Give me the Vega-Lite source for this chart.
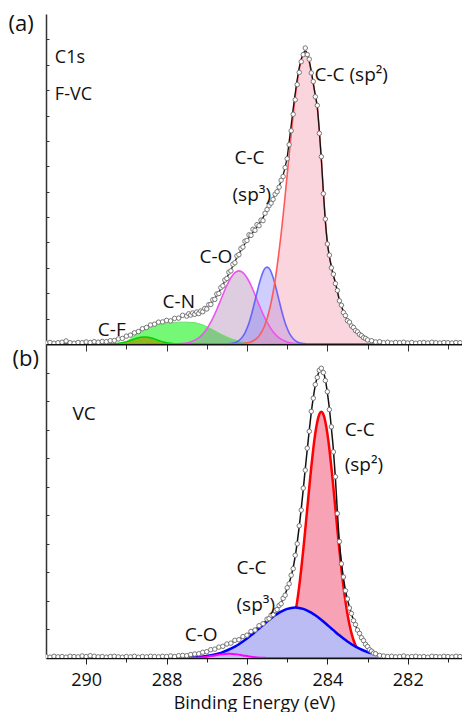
{
  "$schema": "https://vega.github.io/schema/vega-lite/v6.json",
  "padding": {"left": 8, "top": 12, "right": 0, "bottom": 0},
  "spacing": 0,
  "bounds": "flush",
  "config": {
    "view": {"stroke": null},
    "font": "Open Sans",
    "axis": {"labelFont": "Open Sans", "titleFont": "Open Sans"},
    "text": {"font": "Open Sans"}
  },
  "datasets": {
    "a_dat": [
      {"e":291.0,"y":0.04},{"e":290.9,"y":0.06},{"e":290.8,"y":0.03},{"e":290.7,"y":0.05},{"e":290.6,"y":0.07},{"e":290.5,"y":0.12},{"e":290.4,"y":0.05},{"e":290.3,"y":0.03},{"e":290.2,"y":0.06},{"e":290.1,"y":0.05},{"e":290.0,"y":0.08},{"e":289.9,"y":0.06},{"e":289.8,"y":0.09},{"e":289.7,"y":0.07},{"e":289.6,"y":0.10},{"e":289.5,"y":0.09},{"e":289.4,"y":0.13},{"e":289.3,"y":0.14},{"e":289.2,"y":0.20},{"e":289.1,"y":0.22},{"e":289.0,"y":0.31},{"e":288.9,"y":0.35},{"e":288.8,"y":0.44},{"e":288.7,"y":0.49},{"e":288.6,"y":0.60},{"e":288.5,"y":0.65},{"e":288.4,"y":0.75},{"e":288.3,"y":0.78},{"e":288.2,"y":0.86},{"e":288.1,"y":0.87},{"e":288.0,"y":0.93},{"e":287.9,"y":0.91},{"e":287.8,"y":1.01},{"e":287.7,"y":1.02},{"e":287.6,"y":1.13},{"e":287.5,"y":1.10},
      {"e":287.45,"y":1.19},{"e":287.40,"y":1.14},{"e":287.35,"y":1.22},{"e":287.30,"y":1.17},{"e":287.25,"y":1.26},{"e":287.20,"y":1.20},{"e":287.15,"y":1.30},{"e":287.10,"y":1.27},{"e":287.05,"y":1.40},{"e":287.00,"y":1.38},{"e":286.95,"y":1.55},{"e":286.90,"y":1.56},{"e":286.85,"y":1.74},{"e":286.80,"y":1.76},{"e":286.75,"y":1.97},{"e":286.70,"y":1.99},{"e":286.65,"y":2.22},{"e":286.60,"y":2.29},{"e":286.55,"y":2.52},{"e":286.50,"y":2.58},{"e":286.45,"y":2.83},{"e":286.40,"y":2.88},{"e":286.35,"y":3.14},{"e":286.30,"y":3.20},{"e":286.25,"y":3.47},{"e":286.20,"y":3.52},{"e":286.15,"y":3.76},{"e":286.10,"y":3.82},{"e":286.05,"y":4.05},{"e":286.00,"y":4.08},{"e":285.95,"y":4.30},{"e":285.90,"y":4.28},{"e":285.85,"y":4.52},{"e":285.80,"y":4.48},{"e":285.75,"y":4.70},{"e":285.70,"y":4.66},{"e":285.65,"y":4.88},{"e":285.60,"y":4.86},{"e":285.55,"y":5.15},{"e":285.50,"y":5.30},{"e":285.45,"y":5.45},{"e":285.40,"y":5.55},{"e":285.35,"y":5.70},{"e":285.30,"y":5.90},{"e":285.25,"y":6.00},{"e":285.20,"y":6.18},{"e":285.15,"y":6.45},{"e":285.10,"y":6.60},{"e":285.05,"y":6.95},{"e":285.00,"y":7.30},{"e":284.95,"y":7.85},{"e":284.90,"y":8.40},{"e":284.85,"y":9.05},{"e":284.80,"y":9.62},{"e":284.75,"y":10.22},{"e":284.70,"y":10.70},{"e":284.65,"y":11.12},{"e":284.60,"y":11.40},{"e":284.55,"y":11.66},{"e":284.50,"y":11.40},{"e":284.45,"y":11.22},{"e":284.40,"y":10.68},{"e":284.35,"y":10.34},{"e":284.30,"y":9.74},{"e":284.25,"y":9.40},{"e":284.20,"y":8.30},{"e":284.15,"y":7.38},{"e":284.10,"y":5.92},{"e":284.05,"y":4.92},{"e":284.00,"y":3.94},{"e":283.95,"y":3.50},{"e":283.90,"y":3.00},{"e":283.85,"y":2.75},{"e":283.80,"y":2.38},{"e":283.75,"y":2.11},{"e":283.70,"y":1.70},{"e":283.65,"y":1.53},{"e":283.60,"y":1.24},{"e":283.55,"y":1.12},{"e":283.50,"y":0.92},{"e":283.45,"y":0.86},{"e":283.40,"y":0.71},{"e":283.35,"y":0.65},{"e":283.30,"y":0.53},{"e":283.25,"y":0.48},{"e":283.20,"y":0.38},{"e":283.15,"y":0.33},{"e":283.10,"y":0.25},{"e":283.05,"y":0.22},{"e":283.00,"y":0.16},
      {"e":282.9,"y":0.13},{"e":282.8,"y":0.08},{"e":282.7,"y":0.09},{"e":282.6,"y":0.05},{"e":282.5,"y":0.07},{"e":282.4,"y":0.04},{"e":282.3,"y":0.06},{"e":282.2,"y":0.05},{"e":282.1,"y":0.07},{"e":282.0,"y":0.04},{"e":281.9,"y":0.06},{"e":281.8,"y":0.03},{"e":281.7,"y":0.05},{"e":281.6,"y":0.06},{"e":281.5,"y":0.04},{"e":281.4,"y":0.07},{"e":281.3,"y":0.05},{"e":281.2,"y":0.04},{"e":281.1,"y":0.06},{"e":281.0,"y":0.05},{"e":280.9,"y":0.04},{"e":280.8,"y":0.06},{"e":280.7,"y":0.05}
    ],
    "a_env": [
      {"e":291.0,"y":0.05},{"e":290.5,"y":0.05},{"e":290.2,"y":0.06},{"e":290.0,"y":0.06},{"e":289.8,"y":0.07},{"e":289.7,"y":0.08},{"e":289.6,"y":0.09},{"e":289.5,"y":0.10},{"e":289.4,"y":0.12},{"e":289.3,"y":0.15},{"e":289.2,"y":0.19},{"e":289.1,"y":0.24},{"e":289.0,"y":0.31},{"e":288.9,"y":0.38},{"e":288.8,"y":0.45},{"e":288.7,"y":0.52},{"e":288.6,"y":0.59},{"e":288.5,"y":0.66},{"e":288.4,"y":0.73},{"e":288.3,"y":0.79},{"e":288.2,"y":0.84},{"e":288.1,"y":0.88},{"e":288.0,"y":0.91},{"e":287.9,"y":0.94},{"e":287.8,"y":0.98},{"e":287.7,"y":1.04},{"e":287.6,"y":1.09},{"e":287.5,"y":1.13},{"e":287.4,"y":1.17},{"e":287.3,"y":1.20},{"e":287.2,"y":1.24},{"e":287.1,"y":1.31},{"e":287.0,"y":1.43},{"e":286.9,"y":1.60},{"e":286.8,"y":1.80},{"e":286.7,"y":2.03},{"e":286.6,"y":2.33},{"e":286.5,"y":2.62},{"e":286.4,"y":2.92},{"e":286.3,"y":3.25},{"e":286.2,"y":3.55},{"e":286.1,"y":3.82},{"e":286.0,"y":4.08},{"e":285.9,"y":4.30},{"e":285.8,"y":4.50},{"e":285.7,"y":4.72},{"e":285.6,"y":4.98},{"e":285.5,"y":5.28},{"e":285.45,"y":5.43},{"e":285.40,"y":5.58},{"e":285.35,"y":5.73},{"e":285.30,"y":5.88},{"e":285.25,"y":6.04},{"e":285.20,"y":6.22},{"e":285.15,"y":6.42},{"e":285.10,"y":6.66},{"e":285.05,"y":6.97},{"e":285.00,"y":7.36},{"e":284.95,"y":7.98},{"e":284.90,"y":8.62},{"e":284.85,"y":9.28},{"e":284.80,"y":9.87},{"e":284.75,"y":10.42},{"e":284.70,"y":10.88},{"e":284.65,"y":11.22},{"e":284.60,"y":11.45},{"e":284.55,"y":11.55},{"e":284.50,"y":11.45},{"e":284.45,"y":11.15},{"e":284.40,"y":10.75},{"e":284.35,"y":10.28},{"e":284.30,"y":9.80},{"e":284.25,"y":9.33},{"e":284.20,"y":8.40},{"e":284.15,"y":7.30},{"e":284.10,"y":6.00},{"e":284.05,"y":4.85},{"e":284.00,"y":4.00},{"e":283.95,"y":3.45},{"e":283.90,"y":3.05},{"e":283.85,"y":2.70},{"e":283.80,"y":2.42},{"e":283.75,"y":2.07},{"e":283.70,"y":1.73},{"e":283.65,"y":1.50},{"e":283.60,"y":1.27},{"e":283.55,"y":1.09},{"e":283.50,"y":0.95},{"e":283.40,"y":0.73},{"e":283.30,"y":0.55},{"e":283.20,"y":0.40},{"e":283.10,"y":0.27},{"e":283.00,"y":0.17},{"e":282.90,"y":0.12},{"e":282.80,"y":0.09},{"e":282.70,"y":0.07},{"e":282.60,"y":0.06},{"e":282.40,"y":0.05},{"e":280.7,"y":0.05}
    ],
    "a_sp2": [
      {"e":289.0,"y":0},{"e":286.3,"y":0},{"e":286.15,"y":0.01},{"e":286.05,"y":0.03},{"e":285.95,"y":0.06},{"e":285.85,"y":0.12},{"e":285.75,"y":0.23},{"e":285.70,"y":0.32},{"e":285.65,"y":0.44},{"e":285.60,"y":0.58},{"e":285.55,"y":0.77},{"e":285.50,"y":1.00},{"e":285.45,"y":1.29},{"e":285.40,"y":1.63},{"e":285.35,"y":2.04},{"e":285.30,"y":2.51},{"e":285.25,"y":3.06},{"e":285.20,"y":3.67},{"e":285.15,"y":4.34},{"e":285.10,"y":5.07},{"e":285.05,"y":5.85},{"e":285.00,"y":6.65},{"e":284.95,"y":7.46},{"e":284.90,"y":8.26},{"e":284.85,"y":9.02},{"e":284.80,"y":9.71},{"e":284.75,"y":10.32},{"e":284.70,"y":10.82},{"e":284.65,"y":11.19},{"e":284.60,"y":11.42},{"e":284.55,"y":11.50},{"e":284.50,"y":11.39},{"e":284.45,"y":11.10},{"e":284.40,"y":10.70},{"e":284.35,"y":10.24},{"e":284.30,"y":9.78},{"e":284.25,"y":9.32},{"e":284.20,"y":8.40},{"e":284.15,"y":7.30},{"e":284.10,"y":6.00},{"e":284.05,"y":4.85},{"e":284.00,"y":4.00},{"e":283.95,"y":3.45},{"e":283.90,"y":3.05},{"e":283.85,"y":2.70},{"e":283.80,"y":2.42},{"e":283.75,"y":2.07},{"e":283.70,"y":1.73},{"e":283.65,"y":1.50},{"e":283.60,"y":1.27},{"e":283.55,"y":1.09},{"e":283.45,"y":0.83},{"e":283.35,"y":0.63},{"e":283.25,"y":0.47},{"e":283.15,"y":0.30},{"e":283.05,"y":0.18},{"e":282.95,"y":0.12},{"e":282.85,"y":0.07},{"e":282.75,"y":0.03},{"e":282.65,"y":0},{"e":282.4,"y":0}
    ],
    "a_sp3": [
      {"e":288.5,"y":0},{"e":286.5,"y":0},{"e":286.4,"y":0.02},{"e":286.3,"y":0.05},{"e":286.2,"y":0.13},{"e":286.1,"y":0.31},{"e":286.05,"y":0.44},{"e":286.0,"y":0.62},{"e":285.95,"y":0.83},{"e":285.9,"y":1.09},{"e":285.85,"y":1.39},{"e":285.8,"y":1.71},{"e":285.75,"y":2.03},{"e":285.7,"y":2.35},{"e":285.65,"y":2.62},{"e":285.6,"y":2.84},{"e":285.55,"y":2.98},{"e":285.5,"y":3.03},{"e":285.45,"y":2.98},{"e":285.4,"y":2.84},{"e":285.35,"y":2.62},{"e":285.3,"y":2.35},{"e":285.25,"y":2.03},{"e":285.2,"y":1.71},{"e":285.15,"y":1.39},{"e":285.1,"y":1.09},{"e":285.05,"y":0.83},{"e":285.0,"y":0.62},{"e":284.95,"y":0.44},{"e":284.9,"y":0.31},{"e":284.8,"y":0.13},{"e":284.7,"y":0.05},{"e":284.6,"y":0.02},{"e":284.5,"y":0},{"e":282.6,"y":0}
    ],
    "a_co": [
      {"e":289.0,"y":0},{"e":287.8,"y":0},{"e":287.7,"y":0.01},{"e":287.6,"y":0.02},{"e":287.5,"y":0.04},{"e":287.4,"y":0.08},{"e":287.3,"y":0.15},{"e":287.2,"y":0.24},{"e":287.1,"y":0.39},{"e":287.0,"y":0.59},{"e":286.9,"y":0.86},{"e":286.8,"y":1.18},{"e":286.7,"y":1.55},{"e":286.6,"y":1.94},{"e":286.5,"y":2.31},{"e":286.4,"y":2.61},{"e":286.3,"y":2.81},{"e":286.2,"y":2.88},{"e":286.1,"y":2.81},{"e":286.0,"y":2.61},{"e":285.9,"y":2.31},{"e":285.8,"y":1.94},{"e":285.7,"y":1.55},{"e":285.6,"y":1.18},{"e":285.5,"y":0.86},{"e":285.4,"y":0.59},{"e":285.3,"y":0.39},{"e":285.2,"y":0.24},{"e":285.1,"y":0.15},{"e":285.0,"y":0.08},{"e":284.9,"y":0.04},{"e":284.8,"y":0.02},{"e":284.7,"y":0.01},{"e":284.6,"y":0},{"e":282.6,"y":0}
    ],
    "a_cn": [
      {"e":289.6,"y":0},{"e":289.3,"y":0},{"e":289.2,"y":0.01},{"e":289.1,"y":0.04},{"e":289.0,"y":0.10},{"e":288.9,"y":0.20},{"e":288.8,"y":0.33},{"e":288.7,"y":0.46},{"e":288.6,"y":0.56},{"e":288.5,"y":0.63},{"e":288.4,"y":0.70},{"e":288.3,"y":0.74},{"e":288.2,"y":0.78},{"e":288.1,"y":0.80},{"e":288.0,"y":0.82},{"e":287.9,"y":0.84},{"e":287.8,"y":0.85},{"e":287.7,"y":0.86},{"e":287.6,"y":0.86},{"e":287.5,"y":0.86},{"e":287.4,"y":0.85},{"e":287.3,"y":0.84},{"e":287.2,"y":0.80},{"e":287.1,"y":0.75},{"e":287.0,"y":0.68},{"e":286.9,"y":0.60},{"e":286.8,"y":0.52},{"e":286.7,"y":0.43},{"e":286.6,"y":0.35},{"e":286.5,"y":0.28},{"e":286.4,"y":0.21},{"e":286.3,"y":0.16},{"e":286.2,"y":0.115},{"e":286.1,"y":0.08},{"e":286.0,"y":0.056},{"e":285.9,"y":0.037},{"e":285.8,"y":0.024},{"e":285.7,"y":0.015},{"e":285.6,"y":0.009},{"e":285.4,"y":0.003},{"e":285.2,"y":0},{"e":282.6,"y":0}
    ],
    "a_cf": [
      {"e":289.6,"y":0},{"e":289.45,"y":0},{"e":289.35,"y":0.007},{"e":289.25,"y":0.018},{"e":289.15,"y":0.038},{"e":289.05,"y":0.07},{"e":288.95,"y":0.112},{"e":288.85,"y":0.168},{"e":288.75,"y":0.224},{"e":288.65,"y":0.266},{"e":288.55,"y":0.28},{"e":288.45,"y":0.266},{"e":288.35,"y":0.224},{"e":288.25,"y":0.168},{"e":288.15,"y":0.112},{"e":288.05,"y":0.07},{"e":287.95,"y":0.038},{"e":287.85,"y":0.018},{"e":287.75,"y":0.007},{"e":287.65,"y":0},{"e":287.0,"y":0}
    ],
    "a_big": [
      {"e":284.32,"y":10.36,"t":"C-C (sp²)"},{"e":286.31,"y":7.09,"t":"C-C"},{"e":286.36,"y":5.63,"t":"(sp³)"},{"e":287.18,"y":3.19,"t":"C-O"},{"e":288.10,"y":1.42,"t":"C-N"},{"e":289.71,"y":0.32,"t":"C-F"}
    ],
    "a_small": [
      {"e":290.78,"y":11.07,"t":"C1s"},{"e":290.78,"y":9.61,"t":"F-VC"}
    ],
    "b_dat": [
      {"e":291.0,"y":0.05},{"e":290.9,"y":0.03},{"e":290.8,"y":0.06},{"e":290.7,"y":0.04},{"e":290.6,"y":0.05},{"e":290.5,"y":0.03},{"e":290.4,"y":0.06},{"e":290.3,"y":0.05},{"e":290.2,"y":0.04},{"e":290.1,"y":0.07},{"e":290.0,"y":0.05},{"e":289.9,"y":0.08},{"e":289.8,"y":0.06},{"e":289.7,"y":0.04},{"e":289.6,"y":0.05},{"e":289.5,"y":0.03},{"e":289.4,"y":0.05},{"e":289.3,"y":0.06},{"e":289.2,"y":0.04},{"e":289.1,"y":0.03},{"e":289.0,"y":0.05},{"e":288.9,"y":0.04},{"e":288.8,"y":0.06},{"e":288.7,"y":0.03},{"e":288.6,"y":0.05},{"e":288.5,"y":0.04},{"e":288.4,"y":0.06},{"e":288.3,"y":0.05},{"e":288.2,"y":0.04},{"e":288.1,"y":0.06},{"e":288.0,"y":0.05},{"e":287.9,"y":0.07},{"e":287.8,"y":0.05},{"e":287.7,"y":0.08},{"e":287.6,"y":0.09},{"e":287.5,"y":0.08},{"e":287.4,"y":0.12},{"e":287.3,"y":0.14},{"e":287.2,"y":0.15},{"e":287.1,"y":0.20},{"e":287.0,"y":0.22},{"e":286.9,"y":0.29},{"e":286.8,"y":0.31},{"e":286.7,"y":0.38},{"e":286.6,"y":0.41},{"e":286.5,"y":0.49},{"e":286.4,"y":0.52},{"e":286.3,"y":0.62},{"e":286.2,"y":0.64},{"e":286.1,"y":0.75},{"e":286.0,"y":0.80},{"e":285.9,"y":0.93},{"e":285.8,"y":0.98},{"e":285.7,"y":1.13},{"e":285.6,"y":1.20},{"e":285.5,"y":1.36},
      {"e":285.45,"y":1.38},{"e":285.40,"y":1.50},{"e":285.35,"y":1.52},{"e":285.30,"y":1.66},{"e":285.25,"y":1.70},{"e":285.20,"y":1.84},{"e":285.15,"y":1.90},{"e":285.10,"y":2.09},{"e":285.05,"y":2.20},{"e":285.00,"y":2.46},{"e":284.95,"y":2.60},{"e":284.90,"y":2.90},{"e":284.85,"y":3.13},{"e":284.80,"y":3.60},{"e":284.75,"y":4.00},{"e":284.70,"y":4.63},{"e":284.65,"y":5.18},{"e":284.60,"y":5.95},{"e":284.55,"y":6.58},{"e":284.50,"y":7.35},{"e":284.45,"y":7.94},{"e":284.40,"y":8.64},{"e":284.35,"y":9.10},{"e":284.30,"y":9.58},{"e":284.25,"y":9.83},{"e":284.20,"y":10.08},{"e":284.15,"y":10.15},{"e":284.10,"y":10.00},{"e":284.05,"y":9.72},{"e":284.00,"y":9.33},{"e":283.95,"y":8.70},{"e":283.90,"y":8.10},{"e":283.85,"y":7.22},{"e":283.80,"y":6.35},{"e":283.75,"y":5.06},{"e":283.70,"y":4.08},{"e":283.65,"y":3.30},{"e":283.60,"y":2.84},{"e":283.55,"y":2.36},{"e":283.50,"y":2.07},{"e":283.45,"y":1.75},{"e":283.40,"y":1.56},{"e":283.35,"y":1.31},{"e":283.30,"y":1.17},{"e":283.25,"y":0.98},{"e":283.20,"y":0.86},{"e":283.15,"y":0.71},{"e":283.10,"y":0.61},{"e":283.05,"y":0.48},{"e":283.00,"y":0.40},{"e":282.95,"y":0.29},{"e":282.90,"y":0.24},{"e":282.85,"y":0.17},{"e":282.80,"y":0.15},
      {"e":282.7,"y":0.09},{"e":282.6,"y":0.07},{"e":282.5,"y":0.05},{"e":282.4,"y":0.06},{"e":282.3,"y":0.04},{"e":282.2,"y":0.05},{"e":282.1,"y":0.07},{"e":282.0,"y":0.04},{"e":281.9,"y":0.05},{"e":281.8,"y":0.06},{"e":281.7,"y":0.04},{"e":281.6,"y":0.05},{"e":281.5,"y":0.03},{"e":281.4,"y":0.06},{"e":281.3,"y":0.05},{"e":281.2,"y":0.04},{"e":281.1,"y":0.06},{"e":281.0,"y":0.05},{"e":280.9,"y":0.04},{"e":280.8,"y":0.06},{"e":280.7,"y":0.05}
    ],
    "b_env": [
      {"e":291.0,"y":0.04},{"e":288.0,"y":0.04},{"e":287.9,"y":0.04},{"e":287.8,"y":0.05},{"e":287.7,"y":0.06},{"e":287.6,"y":0.07},{"e":287.5,"y":0.09},{"e":287.4,"y":0.11},{"e":287.3,"y":0.13},{"e":287.2,"y":0.16},{"e":287.1,"y":0.19},{"e":287.0,"y":0.23},{"e":286.9,"y":0.27},{"e":286.8,"y":0.32},{"e":286.7,"y":0.37},{"e":286.6,"y":0.42},{"e":286.5,"y":0.48},{"e":286.4,"y":0.54},{"e":286.3,"y":0.60},{"e":286.2,"y":0.66},{"e":286.1,"y":0.74},{"e":286.0,"y":0.82},{"e":285.9,"y":0.91},{"e":285.8,"y":1.00},{"e":285.7,"y":1.11},{"e":285.6,"y":1.22},{"e":285.5,"y":1.34},{"e":285.4,"y":1.47},{"e":285.3,"y":1.63},{"e":285.2,"y":1.81},{"e":285.15,"y":1.93},{"e":285.10,"y":2.07},{"e":285.05,"y":2.24},{"e":285.00,"y":2.43},{"e":284.95,"y":2.63},{"e":284.90,"y":2.87},{"e":284.85,"y":3.17},{"e":284.80,"y":3.56},{"e":284.75,"y":4.04},{"e":284.70,"y":4.60},{"e":284.65,"y":5.22},{"e":284.60,"y":5.90},{"e":284.55,"y":6.62},{"e":284.50,"y":7.30},{"e":284.45,"y":7.98},{"e":284.40,"y":8.60},{"e":284.35,"y":9.12},{"e":284.30,"y":9.55},{"e":284.25,"y":9.85},{"e":284.20,"y":10.05},{"e":284.15,"y":10.10},{"e":284.10,"y":10.02},{"e":284.05,"y":9.75},{"e":284.00,"y":9.30},{"e":283.95,"y":8.75},{"e":283.90,"y":8.05},{"e":283.85,"y":7.30},{"e":283.80,"y":6.30},{"e":283.75,"y":5.10},{"e":283.70,"y":4.05},{"e":283.65,"y":3.35},{"e":283.60,"y":2.80},{"e":283.55,"y":2.38},{"e":283.50,"y":2.05},{"e":283.45,"y":1.78},{"e":283.40,"y":1.54},{"e":283.35,"y":1.33},{"e":283.30,"y":1.15},{"e":283.25,"y":0.99},{"e":283.20,"y":0.85},{"e":283.15,"y":0.72},{"e":283.10,"y":0.60},{"e":283.05,"y":0.49},{"e":283.00,"y":0.39},{"e":282.95,"y":0.30},{"e":282.90,"y":0.23},{"e":282.85,"y":0.18},{"e":282.80,"y":0.14},{"e":282.70,"y":0.09},{"e":282.60,"y":0.06},{"e":282.50,"y":0.05},{"e":282.40,"y":0.04},{"e":280.7,"y":0.04}
    ],
    "b_sp2": [
      {"e":285.45,"y":0.01},{"e":285.35,"y":0.02},{"e":285.25,"y":0.06},{"e":285.15,"y":0.15},{"e":285.10,"y":0.22},{"e":285.05,"y":0.32},{"e":285.00,"y":0.45},{"e":284.95,"y":0.63},{"e":284.90,"y":0.87},{"e":284.85,"y":1.17},{"e":284.80,"y":1.54},{"e":284.75,"y":1.99},{"e":284.70,"y":2.51},{"e":284.65,"y":3.11},{"e":284.60,"y":3.78},{"e":284.55,"y":4.49},{"e":284.50,"y":5.23},{"e":284.45,"y":5.98},{"e":284.40,"y":6.69},{"e":284.35,"y":7.33},{"e":284.30,"y":7.87},{"e":284.25,"y":8.28},{"e":284.20,"y":8.54},{"e":284.15,"y":8.63},{"e":284.10,"y":8.54},{"e":284.05,"y":8.28},{"e":284.00,"y":7.87},{"e":283.95,"y":7.33},{"e":283.90,"y":6.69},{"e":283.85,"y":5.98},{"e":283.80,"y":5.23},{"e":283.75,"y":4.49},{"e":283.70,"y":3.78},{"e":283.65,"y":3.11},{"e":283.60,"y":2.51},{"e":283.55,"y":1.99},{"e":283.50,"y":1.54},{"e":283.45,"y":1.17},{"e":283.40,"y":0.87},{"e":283.35,"y":0.63},{"e":283.30,"y":0.45},{"e":283.25,"y":0.32},{"e":283.20,"y":0.22},{"e":283.15,"y":0.15},{"e":283.05,"y":0.06},{"e":282.95,"y":0.02},{"e":282.85,"y":0.01}
    ],
    "b_sp3": [
      {"e":287.6,"y":0.01},{"e":287.4,"y":0.02},{"e":287.2,"y":0.039},{"e":287.0,"y":0.072},{"e":286.8,"y":0.126},{"e":286.7,"y":0.163},{"e":286.6,"y":0.208},{"e":286.5,"y":0.262},{"e":286.4,"y":0.325},{"e":286.3,"y":0.399},{"e":286.2,"y":0.484},{"e":286.1,"y":0.578},{"e":286.0,"y":0.682},{"e":285.9,"y":0.794},{"e":285.8,"y":0.912},{"e":285.7,"y":1.034},{"e":285.6,"y":1.156},{"e":285.5,"y":1.277},{"e":285.4,"y":1.391},{"e":285.3,"y":1.496},{"e":285.2,"y":1.588},{"e":285.1,"y":1.663},{"e":285.0,"y":1.719},{"e":284.9,"y":1.753},{"e":284.8,"y":1.765},{"e":284.7,"y":1.753},{"e":284.6,"y":1.719},{"e":284.5,"y":1.663},{"e":284.4,"y":1.588},{"e":284.3,"y":1.496},{"e":284.2,"y":1.391},{"e":284.1,"y":1.277},{"e":284.0,"y":1.156},{"e":283.9,"y":1.034},{"e":283.8,"y":0.912},{"e":283.7,"y":0.794},{"e":283.6,"y":0.682},{"e":283.5,"y":0.578},{"e":283.4,"y":0.484},{"e":283.3,"y":0.399},{"e":283.2,"y":0.325},{"e":283.1,"y":0.262},{"e":283.0,"y":0.208},{"e":282.9,"y":0.163},{"e":282.8,"y":0.126},{"e":282.6,"y":0.072}
    ],
    "b_co": [
      {"e":287.9,"y":0.0},{"e":287.45,"y":0.0},{"e":287.35,"y":0.005},{"e":287.25,"y":0.011},{"e":287.15,"y":0.02},{"e":287.05,"y":0.035},{"e":286.95,"y":0.054},{"e":286.85,"y":0.078},{"e":286.75,"y":0.104},{"e":286.65,"y":0.127},{"e":286.55,"y":0.144},{"e":286.45,"y":0.15},{"e":286.35,"y":0.144},{"e":286.25,"y":0.127},{"e":286.15,"y":0.104},{"e":286.05,"y":0.078},{"e":285.95,"y":0.054},{"e":285.85,"y":0.035},{"e":285.75,"y":0.02},{"e":285.65,"y":0.011},{"e":285.55,"y":0.005},{"e":285.45,"y":0.0},{"e":282.7,"y":0.0}
    ],
    "b_lbl": [
      {"e":290.34,"y":8.35,"t":"VC"},{"e":283.57,"y":7.79,"t":"C-C"},{"e":283.57,"y":6.54,"t":"(sp²)"},{"e":286.26,"y":2.95,"t":"C-C"},{"e":286.26,"y":1.65,"t":"(sp³)"},{"e":287.55,"y":0.60,"t":"C-O"}
    ]
  },
  "vconcat": [
    {
      "width": 416,
      "height": 330,
      "encoding": {
        "x": {"field": "e", "type": "quantitative",
          "scale": {"domain": [280.65, 291], "reverse": true, "nice": false, "zero": false},
          "axis": {"values": [281,282,283,284,285,286,287,288,289,290], "labels": false, "title": null, "grid": false,
            "domainColor": "#111", "domainWidth": 2, "tickColor": "#333", "tickWidth": 1,
            "tickSize": {"condition": {"test": "datum.value % 2 === 0", "value": 7}, "value": 5}}},
        "y": {"field": "y", "type": "quantitative",
          "scale": {"domain": [0, 13], "nice": false, "zero": false},
          "axis": {"values": [1,2,3,4,5,6,7,8,9,10,11,12], "labels": false, "grid": false, "tickSize": -3, "tickColor": "#333",
            "domainColor": "#333", "domainWidth": 1.5, "title": "(a)", "titleAngle": 0, "titleX": -38, "titleY": 16,
            "titleAlign": "left", "titleBaseline": "alphabetic", "titleFontSize": 22, "titleFontWeight": "normal", "titleColor": "#111"}}
      },
      "layer": [
        {"data": {"name": "a_cn"}, "mark": {"type": "area", "interpolate": "monotone", "color": "#33f533", "opacity": 0.68, "clip": true}},
        {"data": {"name": "a_cf"}, "mark": {"type": "area", "interpolate": "monotone", "color": "#9c9c00", "opacity": 0.7, "clip": true}},
        {"data": {"name": "a_co"}, "mark": {"type": "area", "interpolate": "monotone", "color": "#a070a8", "opacity": 0.35, "clip": true}},
        {"data": {"name": "a_sp3"}, "mark": {"type": "area", "interpolate": "monotone", "color": "#6a6aff", "opacity": 0.32, "clip": true}},
        {"data": {"name": "a_sp2"}, "mark": {"type": "area", "interpolate": "monotone", "color": "#f590a8", "opacity": 0.38, "clip": true}},
        {"data": {"name": "a_cn"}, "mark": {"type": "line", "interpolate": "monotone", "color": "#66e066", "strokeWidth": 1, "clip": true}},
        {"data": {"name": "a_cf"}, "mark": {"type": "line", "interpolate": "monotone", "color": "#00d000", "strokeWidth": 1.5, "clip": true}},
        {"data": {"name": "a_co"}, "mark": {"type": "line", "interpolate": "monotone", "color": "#ee55ee", "strokeWidth": 1.6, "clip": true}},
        {"data": {"name": "a_sp3"}, "mark": {"type": "line", "interpolate": "monotone", "color": "#5555ff", "strokeWidth": 1.6, "opacity": 0.85, "clip": true}},
        {"data": {"name": "a_sp2"}, "mark": {"type": "line", "interpolate": "monotone", "color": "#ff5a5a", "strokeWidth": 1.6, "clip": true}},
        {"data": {"name": "a_env"}, "mark": {"type": "line", "interpolate": "monotone", "color": "#111111", "strokeWidth": 1.3, "clip": true}},
        {"data": {"name": "a_dat"}, "mark": {"type": "circle", "size": 20, "fill": "white", "stroke": "#777777", "strokeWidth": 1, "opacity": 1, "clip": true}},
        {"data": {"name": "a_big"}, "mark": {"type": "text", "align": "left", "baseline": "alphabetic", "fontSize": 19, "color": "#111"}, "encoding": {"text": {"field": "t"}}},
        {"data": {"name": "a_small"}, "mark": {"type": "text", "align": "left", "baseline": "alphabetic", "fontSize": 18, "color": "#111"}, "encoding": {"text": {"field": "t"}}},
        {"data": {"values": [{}]}, "mark": {"type": "rule", "color": "#444", "strokeWidth": 1.5},
          "encoding": {"x": {"datum": 291}, "x2": {"datum": 280.65}, "y": {"datum": 13}}}
      ]
    },
    {
      "width": 416,
      "height": 314,
      "encoding": {
        "x": {"field": "e", "type": "quantitative",
          "scale": {"domain": [280.65, 291], "reverse": true, "nice": false, "zero": false},
          "axis": {"values": [281,282,283,284,285,286,287,288,289,290],
            "labelExpr": "datum.value % 2 === 0 ? datum.label : ''",
            "labelFontSize": 18, "labelColor": "#111", "labelPadding": 7, "labelOverlap": false, "labelFlush": false,
            "title": "Binding Energy (eV)", "titleFontSize": 18, "titleFontWeight": "normal", "titleColor": "#111", "titlePadding": 5,
            "grid": false, "domainColor": "#111", "domainWidth": 1.5, "tickColor": "#222", "tickWidth": 1,
            "tickSize": {"condition": {"test": "datum.value % 2 === 0", "value": 6}, "value": 4}}},
        "y": {"field": "y", "type": "quantitative",
          "scale": {"domain": [0, 11], "nice": false, "zero": false},
          "axis": {"values": [1,2,3,4,5,6,7,8,9,10], "labels": false, "grid": false, "tickSize": -3, "tickColor": "#333",
            "domainColor": "#333", "domainWidth": 1.5, "title": "(b)", "titleAngle": 0, "titleX": -34, "titleY": 21,
            "titleAlign": "left", "titleBaseline": "alphabetic", "titleFontSize": 22, "titleFontWeight": "normal", "titleColor": "#111"}}
      },
      "layer": [
        {"data": {"name": "b_sp2"}, "mark": {"type": "area", "interpolate": "monotone", "color": "#f7a3b5", "opacity": 1, "clip": true}},
        {"data": {"name": "b_sp2"}, "mark": {"type": "line", "interpolate": "monotone", "color": "#ff0000", "strokeWidth": 2.5, "clip": true}},
        {"data": {"name": "b_sp3"}, "mark": {"type": "area", "interpolate": "monotone", "color": "#bcbcf4", "opacity": 1, "clip": true}},
        {"data": {"name": "b_sp3"}, "mark": {"type": "line", "interpolate": "monotone", "color": "#0000ff", "strokeWidth": 2.5, "clip": true}},
        {"data": {"name": "b_co"}, "mark": {"type": "line", "interpolate": "monotone", "color": "#ff00ff", "strokeWidth": 2, "clip": true}},
        {"data": {"name": "b_env"}, "mark": {"type": "line", "interpolate": "monotone", "color": "#111111", "strokeWidth": 1.5, "clip": true}},
        {"data": {"name": "b_dat"}, "mark": {"type": "circle", "size": 20, "fill": "white", "stroke": "#777777", "strokeWidth": 1, "opacity": 1, "clip": true}},
        {"data": {"name": "b_lbl"}, "mark": {"type": "text", "align": "left", "baseline": "alphabetic", "fontSize": 19, "color": "#111"}, "encoding": {"text": {"field": "t"}}}
      ]
    }
  ]
}
